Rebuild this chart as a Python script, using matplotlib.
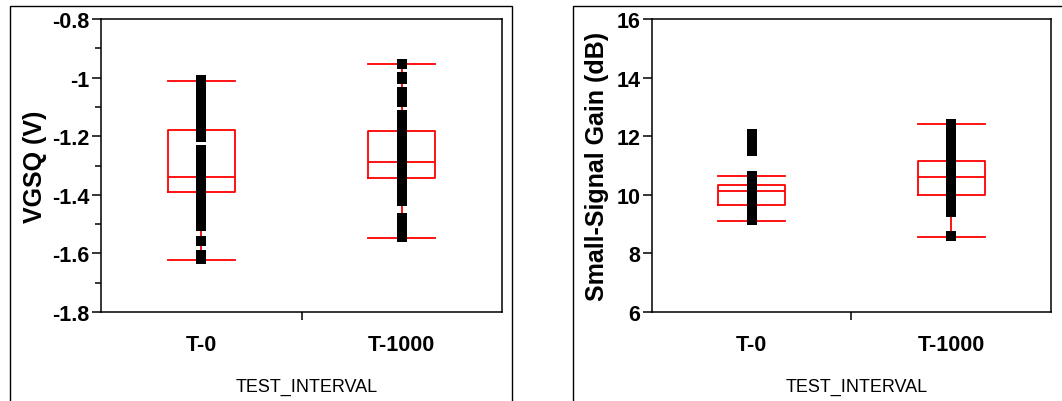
import matplotlib.pyplot as plt
from matplotlib.patches import Rectangle

plt.rcParams['font.family'] = ['Liberation Sans', 'DejaVu Sans']

# data
groups = ['T-0', 'T-1000']

vgsq_t0 = [-1.008, -1.02, -1.04, -1.06, -1.08, -1.10, -1.12, -1.14, -1.16, -1.18,
           -1.203, -1.247, -1.27, -1.29, -1.31, -1.33, -1.35, -1.37, -1.39, -1.41,
           -1.43, -1.45, -1.47, -1.49, -1.507, -1.558, -1.605, -1.62]
vgsq_t1000 = [-0.953, -0.998, -1.005, -1.048, -1.065, -1.083, -1.127, -1.15, -1.17,
              -1.19, -1.21, -1.23, -1.25, -1.27, -1.29, -1.31, -1.33, -1.35, -1.37,
              -1.39, -1.41, -1.42, -1.48, -1.50, -1.52, -1.545]
vgsq_stats = [  # (whislo, q1, med, q3, whishi)
    (-1.621, -1.389, -1.338, -1.178, -1.011),
    (-1.548, -1.343, -1.289, -1.182, -0.955),
]

gain_t0 = [12.08, 11.9, 11.7, 11.49, 10.63, 10.45, 10.25, 10.05, 9.85, 9.65,
           9.45, 9.3, 9.15]
gain_t1000 = [12.42, 12.2, 12.0, 11.8, 11.6, 11.4, 11.2, 11.0, 10.8, 10.6, 10.4,
              10.2, 10.0, 9.8, 9.6, 9.41, 8.59]
gain_stats = [
    (9.12, 9.66, 10.12, 10.35, 10.63),
    (8.57, 10.0, 10.62, 11.16, 12.40),
]


def make_stats(rows):
    out = []
    for lo, q1, med, q3, hi in rows:
        out.append(dict(whislo=lo, q1=q1, med=med, q3=q3, whishi=hi, fliers=[]))
    return out


def draw_panel(ax, stats, points, ylabel, ylim, yticks, minor, lab_x):
    red = dict(color='#ff0000', linewidth=1.3)
    ax.bxp(make_stats(stats), positions=[0, 1], widths=0.334,
           boxprops=red, whiskerprops=red, capprops=red, medianprops=red,
           capwidths=0.334, showfliers=False, manage_ticks=False, zorder=1)
    for i, vals in enumerate(points):
        ax.plot([i] * len(vals), vals, 's', color='black', markersize=7.4,
                markeredgewidth=0, zorder=3)
    ax.set_xlim(-0.5, 1.5)
    ax.set_ylim(*ylim)
    ax.set_yticks(yticks)
    ax.set_yticklabels([('%g' % t) for t in yticks], fontsize=15.5, fontweight='bold')
    if minor is not None:
        ax.set_yticks(minor, minor=True)
    ax.tick_params(axis='y', which='major', direction='out', length=6.5, width=1.1, pad=2)
    ax.tick_params(axis='y', which='minor', direction='out', length=4, width=1.1)
    ax.set_xticks([0, 1])
    ax.set_xticklabels(groups, fontsize=15.5, fontweight='bold')
    ax.set_xticks([0.5], minor=True)
    ax.tick_params(axis='x', which='major', length=0, pad=16)
    ax.tick_params(axis='x', which='minor', direction='out', length=6, width=1.1)
    for s in ax.spines.values():
        s.set_linewidth(1.1)
    ax.set_ylabel(ylabel, fontsize=18, fontweight='bold')
    ax.yaxis.set_label_coords(lab_x, 0.5)
    ax.text(0.513, -0.253, 'TEST_INTERVAL', transform=ax.transAxes,
            ha='center', va='center', fontsize=13)


fig = plt.figure(figsize=(10.62, 4.02), dpi=100)
ax1 = fig.add_axes([0.0951, 0.2214, 0.3776, 0.7288])
ax2 = fig.add_axes([0.6139, 0.2214, 0.3757, 0.7288])

draw_panel(ax1, vgsq_stats, [vgsq_t0, vgsq_t1000], 'VGSQ (V)', (-1.8, -0.8),
           [-1.8, -1.6, -1.4, -1.2, -1.0, -0.8],
           [-1.7, -1.5, -1.3, -1.1, -0.9], -0.135)
draw_panel(ax2, gain_stats, [gain_t0, gain_t1000], 'Small-Signal Gain (dB)', (6, 16),
           [6, 8, 10, 12, 14, 16], None, -0.108)

# outer frames around each panel
fig.patches.append(Rectangle((9.5 / 1062, -0.05), 502.5 / 1062, 1.05 - 7 / 402,
                             transform=fig.transFigure, fill=False,
                             edgecolor='black', linewidth=1.0))
fig.patches.append(Rectangle((573 / 1062, -0.05), 500 / 1062, 1.05 - 7 / 402,
                             transform=fig.transFigure, fill=False,
                             edgecolor='black', linewidth=1.0))

plt.savefig('out.png', dpi=100)
